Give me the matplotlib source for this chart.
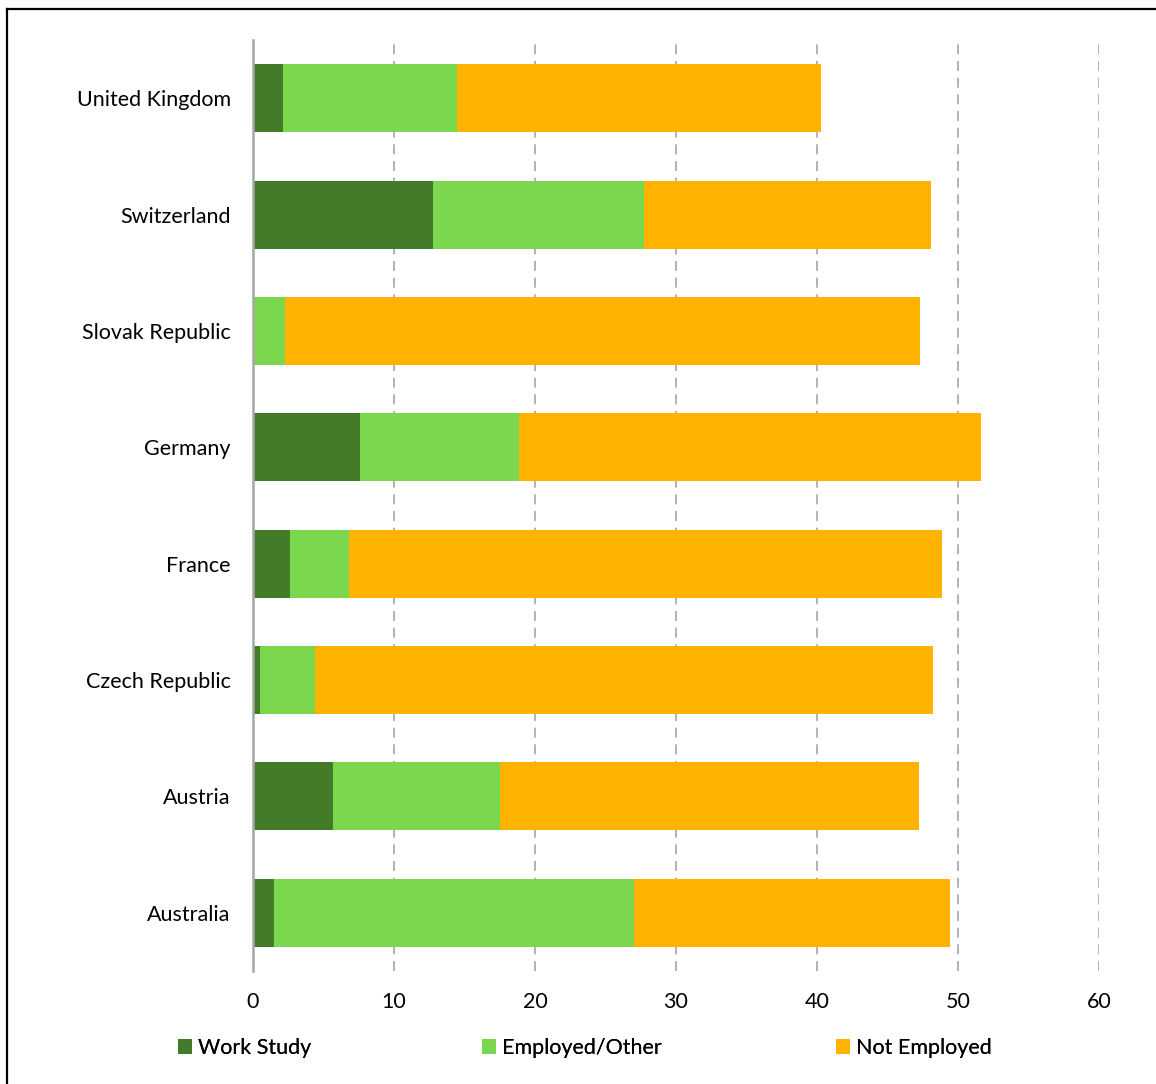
import matplotlib
matplotlib.use("Agg")
import matplotlib.pyplot as plt
from matplotlib.lines import Line2D
from matplotlib.patches import Patch

countries = ["United Kingdom", "Switzerland", "Slovak Republic", "Germany",
             "France", "Czech Republic", "Austria", "Australia"]
work_study = [2.1, 12.8, 0.0, 7.6, 2.6, 0.5, 5.7, 1.5]
employed_other = [12.4, 14.9, 2.3, 11.3, 4.2, 3.9, 11.8, 25.5]
not_employed = [25.8, 20.4, 45.0, 32.7, 42.1, 43.8, 29.7, 22.4]
series_names = ["Work Study", "Employed/Other", "Not Employed"]
colors = ["#437B2A", "#7BD84E", "#FFB300"]
xticks = [0, 10, 20, 30, 40, 50, 60]

plt.rcParams['font.family'] = ['Lato', 'DejaVu Sans']

fig = plt.figure(figsize=(11.56, 10.84), dpi=100)
W, H = 1156, 1084
ax = fig.add_axes([253 / W, 1 - 971 / H, (1099 - 253) / W, (971 - 40) / H])

y = list(range(len(countries)))
left = [0.0] * len(countries)
for vals, name, c in zip([work_study, employed_other, not_employed], series_names, colors):
    ax.barh(y, vals, left=left, height=0.585, color=c, label=name, zorder=3)
    left = [l + v for l, v in zip(left, vals)]

ax.set_ylim(len(countries) - 0.5, -0.5)
ax.set_xlim(0, 60)
ax.set_xticks(xticks)
ax.set_xticklabels([str(t) for t in xticks], fontsize=15.5, color="#000000")
ax.set_yticks(y)
ax.set_yticklabels(countries, fontsize=15.5, color="#000000")
ax.tick_params(axis='both', length=0)
ax.tick_params(axis='x', pad=15)
ax.tick_params(axis='y', pad=16)

for t in xticks[1:]:
    ax.axvline(t, color="#A6A6A6", linestyle=(0, (6, 4)), linewidth=1.2, zorder=1)

for s in ["top", "right", "bottom"]:
    ax.spines[s].set_visible(False)
ax.spines["left"].set_color("#A6A6A6")
ax.spines["left"].set_linewidth(1.8)
ax.spines["left"].set_zorder(4)

# legend entries, placed like the reference (one slot each)
legend_x = [178 / W, 482 / W, 836 / W]
for name, c, lx in zip(series_names, colors, legend_x):
    lg = fig.legend([Patch(facecolor=c, edgecolor='none')], [name], loc="center left",
                    bbox_to_anchor=(lx, 1 - 1048 / H), frameon=False, fontsize=15.5,
                    handlelength=0.65, handleheight=0.65, handletextpad=0.3,
                    borderpad=0, borderaxespad=0)
    fig.add_artist(lg)

# frame lines (top and left)
fig.add_artist(Line2D([7 / W, 1.0], [1 - 8.5 / H, 1 - 8.5 / H], color="black", linewidth=1.6))
fig.add_artist(Line2D([7 / W, 7 / W], [0.0, 1 - 8.5 / H], color="black", linewidth=1.6))

fig.savefig("out.png", dpi=100, facecolor="white")
